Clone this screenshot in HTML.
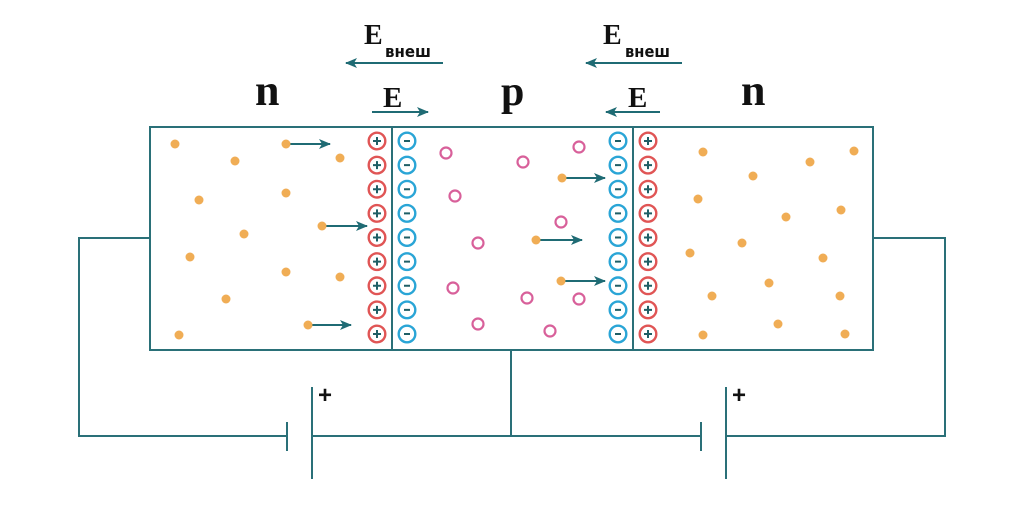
<!DOCTYPE html>
<html><head><meta charset="utf-8"><style>
html,body{margin:0;padding:0;background:#fff;}
svg{display:block;}
</style></head><body>
<svg width="1024" height="505" viewBox="0 0 1024 505" xmlns="http://www.w3.org/2000/svg">
<defs>
<marker id="ah" viewBox="0 0 12 10" refX="11" refY="5" markerWidth="12" markerHeight="10" markerUnits="userSpaceOnUse" orient="auto">
<path d="M0,0 L12,5 L0,10 L3,5 Z" fill="#1f6b74"/>
</marker>
</defs>
<g fill="none" stroke="#2a7078" stroke-width="2">
<rect x="150" y="127" width="723" height="223"/>
<line x1="392" y1="127" x2="392" y2="350"/>
<line x1="633" y1="127" x2="633" y2="350"/>
<polyline points="150,238 79,238 79,436 287,436"/>
<line x1="287" y1="422" x2="287" y2="451"/>
<line x1="312" y1="387" x2="312" y2="479"/>
<line x1="312" y1="436" x2="701" y2="436"/>
<line x1="511" y1="350" x2="511" y2="436"/>
<line x1="701" y1="422" x2="701" y2="451"/>
<line x1="726" y1="387" x2="726" y2="479"/>
<polyline points="726,436 945,436 945,238 873,238"/>
</g>
<g font-family="'Liberation Sans',sans-serif" font-weight="bold" font-size="24" fill="#111">
<text x="318" y="403">+</text>
<text x="732" y="403">+</text>
</g>
<g font-family="'Liberation Serif','DejaVu Serif',serif" font-weight="bold" fill="#111">
<text x="255" y="105" font-size="44">n</text>
<text x="741" y="105" font-size="44">n</text>
<text x="501" y="105" font-size="42">p</text>
<text x="364" y="44" font-size="28">E</text>
<text x="603" y="44" font-size="28">E</text>
<text x="383" y="107" font-size="29">E</text>
<text x="628" y="107" font-size="29">E</text>
</g>
<g font-family="'DejaVu Sans','Liberation Sans',sans-serif" font-weight="bold" fill="#111" font-size="16">
<text x="385" y="57" textLength="46" lengthAdjust="spacingAndGlyphs">внеш</text>
<text x="625" y="57" textLength="45" lengthAdjust="spacingAndGlyphs">внеш</text>
</g>
<g stroke="#1f6b74" stroke-width="2" marker-end="url(#ah)">
<line x1="443" y1="63" x2="346" y2="63"/>
<line x1="682" y1="63" x2="586" y2="63"/>
<line x1="372" y1="112" x2="428" y2="112"/>
<line x1="660" y1="112" x2="606" y2="112"/>
<line x1="286" y1="144" x2="330" y2="144"/>
<line x1="322" y1="226" x2="367" y2="226"/>
<line x1="308" y1="325" x2="351" y2="325"/>
<line x1="562" y1="178" x2="605" y2="178"/>
<line x1="536" y1="240" x2="582" y2="240"/>
<line x1="561" y1="281" x2="605" y2="281"/>
</g>
<g fill="#f0ad55">
<circle cx="175" cy="144" r="4.5"/><circle cx="286" cy="144" r="4.5"/><circle cx="235" cy="161" r="4.5"/>
<circle cx="340" cy="158" r="4.5"/><circle cx="199" cy="200" r="4.5"/><circle cx="286" cy="193" r="4.5"/>
<circle cx="322" cy="226" r="4.5"/><circle cx="244" cy="234" r="4.5"/><circle cx="190" cy="257" r="4.5"/>
<circle cx="286" cy="272" r="4.5"/><circle cx="340" cy="277" r="4.5"/><circle cx="226" cy="299" r="4.5"/>
<circle cx="308" cy="325" r="4.5"/><circle cx="179" cy="335" r="4.5"/>
<circle cx="562" cy="178" r="4.5"/><circle cx="536" cy="240" r="4.5"/><circle cx="561" cy="281" r="4.5"/>
<circle cx="703" cy="152" r="4.5"/><circle cx="854" cy="151" r="4.5"/><circle cx="810" cy="162" r="4.5"/>
<circle cx="753" cy="176" r="4.5"/><circle cx="698" cy="199" r="4.5"/><circle cx="841" cy="210" r="4.5"/>
<circle cx="786" cy="217" r="4.5"/><circle cx="742" cy="243" r="4.5"/><circle cx="690" cy="253" r="4.5"/>
<circle cx="823" cy="258" r="4.5"/><circle cx="769" cy="283" r="4.5"/><circle cx="712" cy="296" r="4.5"/>
<circle cx="840" cy="296" r="4.5"/><circle cx="778" cy="324" r="4.5"/><circle cx="703" cy="335" r="4.5"/>
<circle cx="845" cy="334" r="4.5"/>
</g>
<g fill="none" stroke="#d8609a" stroke-width="2.2">
<circle cx="446" cy="153" r="5.5"/><circle cx="523" cy="162" r="5.5"/><circle cx="579" cy="147" r="5.5"/>
<circle cx="455" cy="196" r="5.5"/><circle cx="561" cy="222" r="5.5"/><circle cx="478" cy="243" r="5.5"/>
<circle cx="453" cy="288" r="5.5"/><circle cx="527" cy="298" r="5.5"/><circle cx="579" cy="299" r="5.5"/>
<circle cx="478" cy="324" r="5.5"/><circle cx="550" cy="331" r="5.5"/>
</g>
<g fill="none" stroke-width="2.4">
<g stroke="#e05555">
<circle cx="377" cy="141" r="8.3"/><circle cx="377" cy="165.1" r="8.3"/><circle cx="377" cy="189.2" r="8.3"/>
<circle cx="377" cy="213.4" r="8.3"/><circle cx="377" cy="237.5" r="8.3"/><circle cx="377" cy="261.6" r="8.3"/>
<circle cx="377" cy="285.8" r="8.3"/><circle cx="377" cy="309.9" r="8.3"/><circle cx="377" cy="334" r="8.3"/>
<circle cx="648" cy="141" r="8.3"/><circle cx="648" cy="165.1" r="8.3"/><circle cx="648" cy="189.2" r="8.3"/>
<circle cx="648" cy="213.4" r="8.3"/><circle cx="648" cy="237.5" r="8.3"/><circle cx="648" cy="261.6" r="8.3"/>
<circle cx="648" cy="285.8" r="8.3"/><circle cx="648" cy="309.9" r="8.3"/><circle cx="648" cy="334" r="8.3"/>
</g>
<g stroke="#2aa5d6">
<circle cx="407" cy="141" r="8.3"/><circle cx="407" cy="165.1" r="8.3"/><circle cx="407" cy="189.2" r="8.3"/>
<circle cx="407" cy="213.4" r="8.3"/><circle cx="407" cy="237.5" r="8.3"/><circle cx="407" cy="261.6" r="8.3"/>
<circle cx="407" cy="285.8" r="8.3"/><circle cx="407" cy="309.9" r="8.3"/><circle cx="407" cy="334" r="8.3"/>
<circle cx="618" cy="141" r="8.3"/><circle cx="618" cy="165.1" r="8.3"/><circle cx="618" cy="189.2" r="8.3"/>
<circle cx="618" cy="213.4" r="8.3"/><circle cx="618" cy="237.5" r="8.3"/><circle cx="618" cy="261.6" r="8.3"/>
<circle cx="618" cy="285.8" r="8.3"/><circle cx="618" cy="309.9" r="8.3"/><circle cx="618" cy="334" r="8.3"/>
</g>
</g>
<g stroke="#1f5f66" stroke-width="2">
<path d="M373,141h8M377,137v8 M373,165.1h8M377,161.1v8 M373,189.2h8M377,185.2v8 M373,213.4h8M377,209.4v8 M373,237.5h8M377,233.5v8 M373,261.6h8M377,257.6v8 M373,285.8h8M377,281.8v8 M373,309.9h8M377,305.9v8 M373,334h8M377,330v8"/>
<path d="M644,141h8M648,137v8 M644,165.1h8M648,161.1v8 M644,189.2h8M648,185.2v8 M644,213.4h8M648,209.4v8 M644,237.5h8M648,233.5v8 M644,261.6h8M648,257.6v8 M644,285.8h8M648,281.8v8 M644,309.9h8M648,305.9v8 M644,334h8M648,330v8"/>
<path d="M404,141h6 M404,165.1h6 M404,189.2h6 M404,213.4h6 M404,237.5h6 M404,261.6h6 M404,285.8h6 M404,309.9h6 M404,334h6"/>
<path d="M615,141h6 M615,165.1h6 M615,189.2h6 M615,213.4h6 M615,237.5h6 M615,261.6h6 M615,285.8h6 M615,309.9h6 M615,334h6"/>
</g>
</svg>
</body></html>
